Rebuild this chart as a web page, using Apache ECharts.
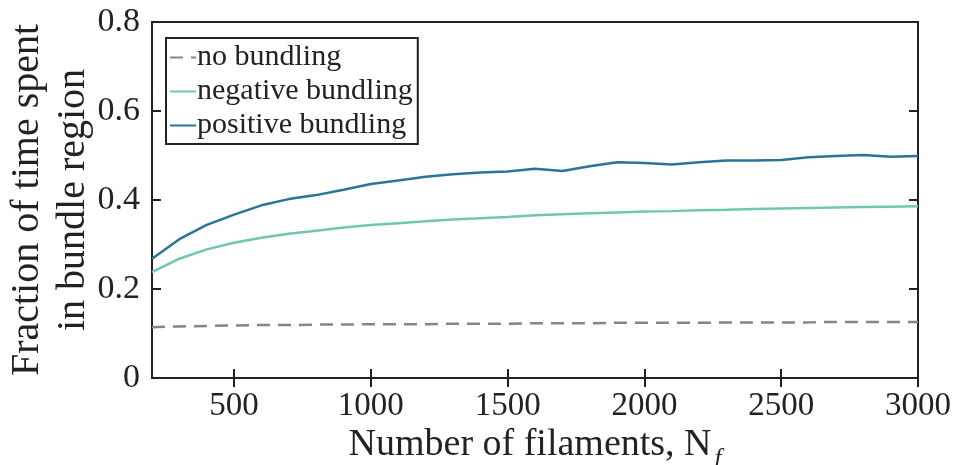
<!DOCTYPE html>
<html>
<head>
<meta charset="utf-8">
<script src="https://cdn.jsdelivr.net/npm/echarts@6/dist/echarts.min.js"></script>
<style>
html,body{margin:0;padding:0;background:#fff;}
#chart{width:955px;height:465px;}
</style>
</head>
<body>
<div id="chart"></div>
<script>
var filaments = [200,300,400,500,600,700,800,900,1000,1100,1200,1300,1400,1500,1600,1700,1800,1900,2000,2100,2200,2300,2400,2500,2600,2700,2800,2900,3000];
var noBundling = [0.114,0.116,0.117,0.118,0.119,0.119,0.120,0.120,0.121,0.121,0.121,0.122,0.122,0.122,0.123,0.123,0.123,0.124,0.124,0.124,0.124,0.125,0.125,0.125,0.125,0.126,0.126,0.126,0.126];
var negativeBundling = [0.238,0.268,0.289,0.304,0.315,0.324,0.331,0.338,0.344,0.348,0.352,0.356,0.359,0.362,0.366,0.368,0.370,0.372,0.374,0.375,0.377,0.378,0.380,0.381,0.382,0.383,0.384,0.385,0.386];
var positiveBundling = [0.268,0.312,0.344,0.367,0.388,0.402,0.411,0.423,0.436,0.444,0.452,0.458,0.462,0.464,0.470,0.465,0.476,0.485,0.483,0.480,0.485,0.489,0.489,0.490,0.496,0.499,0.501,0.497,0.499];
var xTickValues = [500,1000,1500,2000,2500,3000];
var yTickValues = [0,0.2,0.4,0.6,0.8];
var seriesNames = ['no bundling','negative bundling','positive bundling'];

function pairs(ys){ return filaments.map(function(x,i){ return [x, ys[i]]; }); }

var FONT = '"Liberation Serif", "DejaVu Serif", serif';
var INK = '#222';

var chart = echarts.init(document.getElementById('chart'), null, {renderer:'canvas'});
chart.setOption({
  backgroundColor: '#fff',
  animation: false,
  grid: {left:152, right:37, top:22, bottom:87, show:true, borderColor:INK, borderWidth:2,
         backgroundColor:'transparent', containLabel:false, outerBoundsMode:'none'},
  legend: {
    orient:'vertical', left:166, top:38,
    data: seriesNames,
    borderColor:INK, borderWidth:2, padding:[4,5,3,3],
    itemWidth:26, itemHeight:10, itemGap:3,
    backgroundColor:'#fff',
    itemStyle:{opacity:0},
    textStyle:{fontFamily:FONT, fontSize:30, color:INK, lineHeight:31, padding:[0,0,0,-4]}
  },
  xAxis: [{
    type:'value', min:200, max:3000,
    name:'{a|Number of filaments, N}{s|f}',
    nameLocation:'middle', nameGap:44, nameMoveOverlap:false,
    nameTextStyle:{rich:{
      a:{fontFamily:FONT, fontSize:38, color:INK, lineHeight:42, verticalAlign:'bottom'},
      s:{fontFamily:FONT, fontSize:25, fontStyle:'italic', color:INK, lineHeight:42, verticalAlign:'bottom', padding:[0,0,-8,3]}
    }},
    axisLine:{show:true, lineStyle:{color:INK, width:2}},
    axisTick:{show:true, inside:true, length:9, lineStyle:{color:INK, width:2}, customValues:xTickValues},
    axisLabel:{fontFamily:FONT, fontSize:33, color:INK, margin:12, customValues:xTickValues,
      formatter:function(v){ return String(v); }},
    splitLine:{show:false}
  },{
    type:'value', position:'top', min:200, max:3000,
    axisLine:{show:true, lineStyle:{color:INK, width:2}},
    axisTick:{show:true, inside:true, length:9, lineStyle:{color:INK, width:2}, customValues:xTickValues},
    axisLabel:{show:false},
    splitLine:{show:false}
  }],
  yAxis: [{
    type:'value', min:0, max:0.8, interval:0.2,
    name:'Fraction of time spent\nin bundle region',
    nameLocation:'middle', nameGap:56, nameMoveOverlap:false,
    nameTextStyle:{fontFamily:FONT, fontSize:40, color:INK, lineHeight:46},
    axisLine:{show:true, lineStyle:{color:INK, width:2}},
    axisTick:{show:true, inside:true, length:9, lineStyle:{color:INK, width:2}, customValues:yTickValues},
    axisLabel:{fontFamily:FONT, fontSize:34, color:INK, margin:12, customValues:yTickValues,
      formatter:function(v){ return v===0 ? '0' : v.toFixed(1); }},
    splitLine:{show:false}
  },{
    type:'value', position:'right', min:0, max:0.8, interval:0.2,
    axisLine:{show:true, lineStyle:{color:INK, width:2}},
    axisTick:{show:true, inside:true, length:9, lineStyle:{color:INK, width:2}, customValues:yTickValues},
    axisLabel:{show:false},
    splitLine:{show:false}
  }],
  series: [
    {name:seriesNames[0], type:'line', data:pairs(noBundling), showSymbol:false, symbol:'none',
     color:'#858585', lineStyle:{color:'#858585', width:2.5, type:[13,8]}},
    {name:seriesNames[1], type:'line', data:pairs(negativeBundling), showSymbol:false, symbol:'none',
     color:'#6fc6b4', lineStyle:{color:'#6fc6b4', width:2.5}},
    {name:seriesNames[2], type:'line', data:pairs(positiveBundling), showSymbol:false, symbol:'none',
     color:'#2a7597', lineStyle:{color:'#2a7597', width:2.5}}
  ]
});
</script>
</body>
</html>
